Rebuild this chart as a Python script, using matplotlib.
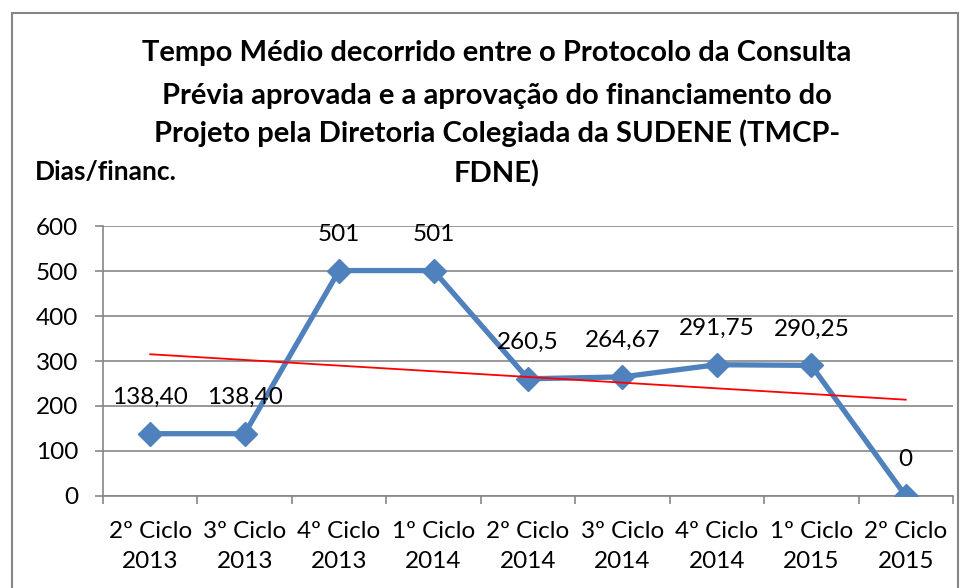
import numpy as np
import matplotlib.pyplot as plt
from matplotlib.patches import Rectangle
from matplotlib.ticker import FixedLocator

# data
categorias = ['2º Ciclo\n2013', '3º Ciclo\n2013', '4º Ciclo\n2013', '1º Ciclo\n2014',
              '2º Ciclo\n2014', '3º Ciclo\n2014', '4º Ciclo\n2014', '1º Ciclo\n2015',
              '2º Ciclo\n2015']
valores = [138.40, 138.40, 501, 501, 260.5, 264.67, 291.75, 290.25, 0]
rotulos = ['138,40', '138,40', '501', '501', '260,5', '264,67', '291,75', '290,25', '0']
# trend line (as drawn in the original), values at first and last category
tendencia_x = [0, 8]
tendencia_y = [315, 214]

plt.rcParams['font.family'] = ['Lato', 'DejaVu Sans']

fig = plt.figure(figsize=(9.67, 5.88), dpi=100)
ax = fig.add_axes([0.1065, 0.1565, 0.879, 0.4591])

x = np.arange(len(valores))
azul = '#4F81BD'
ax.plot(x, valores, color=azul, lw=3.8, marker='D', markersize=12, zorder=3)
ax.plot(tendencia_x, tendencia_y, color='#FF0000', lw=1.3, zorder=4)

for xi, v, r in zip(x, valores, rotulos):
    ax.annotate(r, (xi, v), xytext=(0, 26), textcoords='offset points',
                ha='center', va='center', fontsize=17.5)

ax.set_xlim(-0.5, len(valores) - 0.5)
ax.set_ylim(0, 600)
ax.set_yticks(range(0, 601, 100))
ax.set_xticks(x)
ax.set_xticklabels(categorias, fontsize=17.5, linespacing=1.55)
ax.xaxis.set_minor_locator(FixedLocator(np.arange(-0.5, len(valores), 1)))
ax.tick_params(axis='x', which='major', length=0, pad=18)
ax.tick_params(axis='x', which='minor', length=6, width=1.2, color='#868686')
ax.tick_params(axis='y', length=6, width=1.2, color='#868686', pad=12, labelsize=17.5)

ax.grid(axis='y', color='#868686', lw=1.2)
ax.set_axisbelow(True)
for s in ['top', 'right']:
    ax.spines[s].set_visible(False)
for s in ['left', 'bottom']:
    ax.spines[s].set_color('#868686')
    ax.spines[s].set_linewidth(1.2)

titulo = ['Tempo Médio decorrido entre o Protocolo da Consulta',
          'Prévia aprovada e a aprovação do financiamento do',
          'Projeto pela Diretoria Colegiada da SUDENE (TMCP-',
          'FDNE)']
for yy, linha in zip([0.91, 0.836, 0.773, 0.705], titulo):
    fig.text(0.514, yy, linha, ha='center', va='center', fontsize=21,
             fontweight='bold')
fig.text(0.036, 0.707, 'Dias/financ.', ha='left', va='center', fontsize=19,
         fontweight='bold')

fig.patches.append(Rectangle((12 / 967, -0.1), 946 / 967, 1 - 13 / 588 + 0.1,
                             transform=fig.transFigure, fill=False,
                             edgecolor='#868686', lw=1.5))

fig.savefig('out.png', dpi=100)
